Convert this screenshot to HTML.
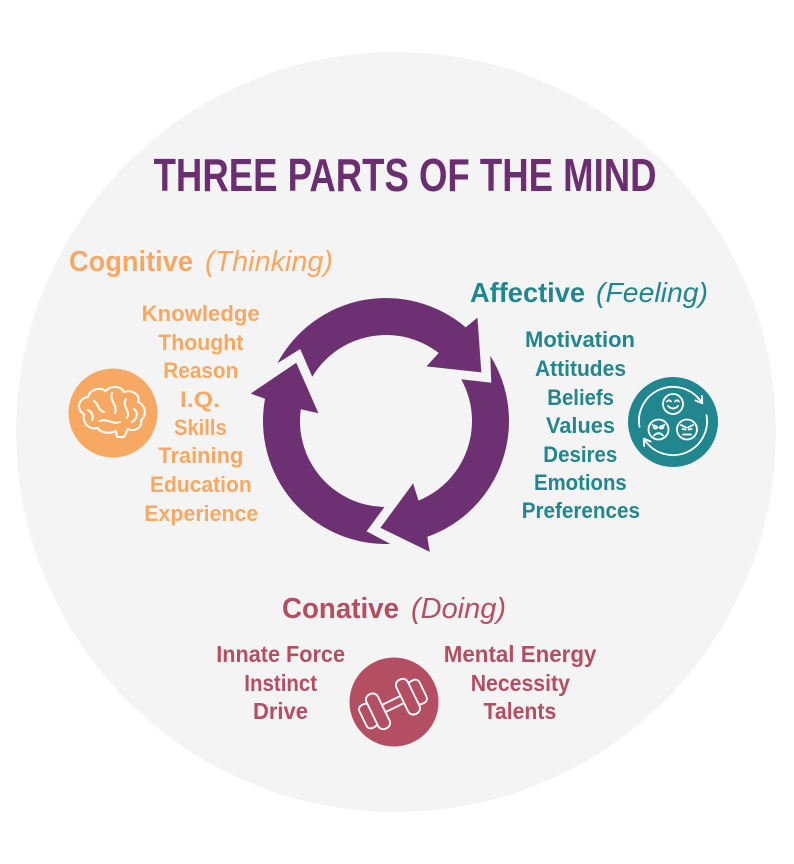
<!DOCTYPE html>
<html>
<head>
<meta charset="utf-8">
<style>
  html, body { margin: 0; padding: 0; background: #ffffff; }
  body { width: 794px; height: 864px; overflow: hidden; }
  svg { display: block; }
  text { font-family: "Liberation Sans", "DejaVu Sans", sans-serif; }
  .b { font-weight: bold; }
  .i { font-style: italic; font-weight: normal; }
</style>
</head>
<body>
<svg width="794" height="864" viewBox="0 0 794 864" xmlns="http://www.w3.org/2000/svg">
  <!-- background circle -->
  <circle cx="396" cy="432" r="380" fill="#F4F4F4"/>

  <!-- title -->
  <text x="153.6" y="191" class="b" font-size="46" fill="#6B2E70" textLength="503" lengthAdjust="spacingAndGlyphs">THREE PARTS OF THE MIND</text>

  <!-- cycle arrows -->
  <g fill="#6D3173">
    <path d="M277.40,363.26 A123,123 0 0 1 465.72,327.33 L477.44,317.64 L481.34,372.42 L426.45,366.34 L438.73,353.06 A86,86 0 0 0 312.28,376.71 L300.20,349.01 Z"/>
    <path d="M277.40,363.26 A123,123 0 0 1 465.72,327.33 L477.44,317.64 L481.34,372.42 L426.45,366.34 L438.73,353.06 A86,86 0 0 0 312.28,376.71 L300.20,349.01 Z" transform="rotate(120 386 421)"/>
    <path d="M277.40,363.26 A123,123 0 0 1 465.72,327.33 L477.44,317.64 L481.34,372.42 L426.45,366.34 L438.73,353.06 A86,86 0 0 0 312.28,376.71 L300.20,349.01 Z" transform="rotate(240 386 421)"/>
  </g>

  <!-- Cognitive -->
  <text x="69" y="271" class="b" font-size="29" fill="#F7A862" textLength="124" lengthAdjust="spacingAndGlyphs">Cognitive</text>
  <text x="205" y="271" class="i" font-size="29" fill="#F7A862" textLength="128" lengthAdjust="spacingAndGlyphs">(Thinking)</text>
  <g class="b" font-size="22" fill="#F7A862">
    <text x="141.7" y="321" class="b" textLength="118" lengthAdjust="spacingAndGlyphs">Knowledge</text>
    <text x="158.3" y="350" class="b" textLength="85" lengthAdjust="spacingAndGlyphs">Thought</text>
    <text x="163.3" y="378" class="b" textLength="75" lengthAdjust="spacingAndGlyphs">Reason</text>
    <text x="180" y="407" class="b" textLength="40" lengthAdjust="spacingAndGlyphs">I.Q.</text>
    <text x="174" y="435" class="b" textLength="52.7" lengthAdjust="spacingAndGlyphs">Skills</text>
    <text x="158.3" y="463" class="b" textLength="85" lengthAdjust="spacingAndGlyphs">Training</text>
    <text x="150" y="492" class="b" textLength="101.7" lengthAdjust="spacingAndGlyphs">Education</text>
    <text x="144.3" y="521" class="b" textLength="114" lengthAdjust="spacingAndGlyphs">Experience</text>
  </g>
  <!-- brain icon -->
  <circle cx="113" cy="413" r="44.5" fill="#F7A862"/>
  <g fill="none" stroke="#ffffff" stroke-width="2" stroke-linecap="round" stroke-linejoin="round">
    <path d="M84 414 C76 410 78 398 88 397 C90 389 100 387 106 391 C110 385 122 386 124 392 C132 389 141 395 138 402 C146 405 147 416 141 420 C143 428 134 432 128 429 L124 437 L117 437 L116 431 C110 434 100 433 98 428 C90 430 82 424 84 414 Z"/>
    <path d="M94 401 C99 404 97 410 104 412"/>
    <path d="M112 393 C109 401 118 405 115 413"/>
    <path d="M126 399 C121 406 131 410 127 418"/>
    <path d="M100 421 C107 418 112 425 120 422"/>
    <path d="M134 409 C139 413 137 419 132 422"/>
    <path d="M88 410 C92 412 94 416 92 420"/>
  </g>

  <!-- Affective -->
  <text x="470" y="302" class="b" font-size="28" fill="#21868D" textLength="115" lengthAdjust="spacingAndGlyphs">Affective</text>
  <text x="596" y="302" class="i" font-size="28" fill="#21868D" textLength="112" lengthAdjust="spacingAndGlyphs">(Feeling)</text>
  <g font-size="22" fill="#21868D">
    <text x="525" y="347" class="b" textLength="110" lengthAdjust="spacingAndGlyphs">Motivation</text>
    <text x="535" y="376" class="b" textLength="91" lengthAdjust="spacingAndGlyphs">Attitudes</text>
    <text x="547.3" y="405" class="b" textLength="66.7" lengthAdjust="spacingAndGlyphs">Beliefs</text>
    <text x="546" y="433" class="b" textLength="69" lengthAdjust="spacingAndGlyphs">Values</text>
    <text x="543.3" y="462" class="b" textLength="74" lengthAdjust="spacingAndGlyphs">Desires</text>
    <text x="534" y="490" class="b" textLength="92.7" lengthAdjust="spacingAndGlyphs">Emotions</text>
    <text x="521.7" y="518" class="b" textLength="118.3" lengthAdjust="spacingAndGlyphs">Preferences</text>
  </g>
  <!-- emotions icon -->
  <circle cx="673" cy="422" r="45" fill="#21868D"/>
  <g fill="none" stroke="#ffffff" stroke-width="1.8" stroke-linecap="round" stroke-linejoin="round">
    <path d="M639.5 426.9 A34 34 0 0 1 700.9 401.5"/>
    <polyline points="701.8,395.8 702.3,403.3 695.3,400.4"/>
    <path d="M706.5 415.1 A34 34 0 0 1 645.1 440.5"/>
    <polyline points="644.2,446.1 643.8,438.6 650.7,441.5"/>
    <!-- happy -->
    <circle cx="673" cy="404" r="10"/>
    <path d="M667 401.5 q2 -2.5 4 0 M675 401.5 q2 -2.5 4 0"/>
    <path d="M668 406 q5 5 10 0"/>
    <!-- sad -->
    <circle cx="658.5" cy="429.5" r="10"/>
    <path d="M652.5 425 l4 1.5 M664.5 425 l-4 1.5"/>
    <path d="M653.5 427.5 q2 2 4 0 M659.5 427.5 q2 2 4 0"/>
    <path d="M654 435.5 q4.5 -4.5 9 0"/>
    <!-- angry -->
    <circle cx="687" cy="429.5" r="10"/>
    <path d="M681 425 l5 2.5 M693 425 l-5 2.5"/>
    <path d="M682.5 429 l3 0.5 M691.5 429 l-3 0.5"/>
    <path d="M683 434.5 h8"/>
  </g>

  <!-- Conative -->
  <text x="282" y="618" class="b" font-size="29" fill="#B34E63" textLength="117" lengthAdjust="spacingAndGlyphs">Conative</text>
  <text x="411" y="618" class="i" font-size="29" fill="#B34E63" textLength="95" lengthAdjust="spacingAndGlyphs">(Doing)</text>
  <g font-size="23" fill="#B34E63">
    <text x="216.3" y="662" class="b" textLength="128.7" lengthAdjust="spacingAndGlyphs">Innate Force</text>
    <text x="244.3" y="691" class="b" textLength="72.8" lengthAdjust="spacingAndGlyphs">Instinct</text>
    <text x="253" y="719" class="b" textLength="55" lengthAdjust="spacingAndGlyphs">Drive</text>
    <text x="443.8" y="662" class="b" textLength="152.6" lengthAdjust="spacingAndGlyphs">Mental Energy</text>
    <text x="470.7" y="691" class="b" textLength="99.2" lengthAdjust="spacingAndGlyphs">Necessity</text>
    <text x="483.5" y="719" class="b" textLength="72.8" lengthAdjust="spacingAndGlyphs">Talents</text>
  </g>
  <!-- dumbbell icon -->
  <circle cx="394" cy="702" r="44.5" fill="#B34E63"/>
  <g transform="translate(393 704) rotate(-26) scale(1.15)" fill="#B34E63" stroke="#ffffff" stroke-width="1.6" stroke-linejoin="round">
    <rect x="-11" y="-3.5" width="22" height="7"/>
    <rect x="19" y="-11" width="10" height="22" rx="4"/>
    <rect x="-29" y="-11" width="10" height="22" rx="4"/>
    <rect x="9" y="-16.5" width="11" height="33" rx="5"/>
    <rect x="-20" y="-16.5" width="11" height="33" rx="5"/>
  </g>
</svg>
</body>
</html>
